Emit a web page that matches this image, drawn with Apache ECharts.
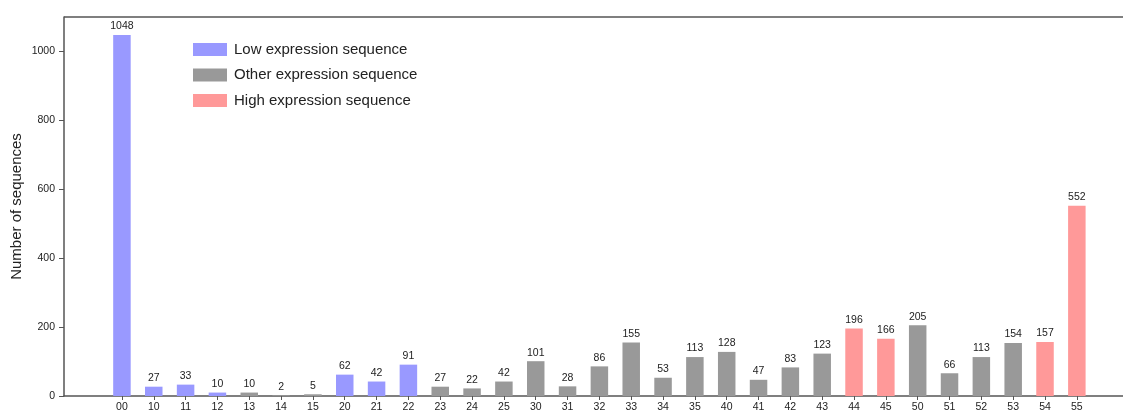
<!DOCTYPE html>
<html>
<head>
<meta charset="utf-8">
<script src="https://cdn.jsdelivr.net/npm/echarts@6/dist/echarts.min.js"></script>
<style>html,body{margin:0;padding:0;background:#fff}#c{width:1123px;height:412px}</style>
</head>
<body>
<div id="c"></div>
<script>
var categories = ['00','10','11','12','13','14','15','20','21','22','23','24','25','30','31','32','33','34','35','40','41','42','43','44','45','50','51','52','53','54','55'];
var values = [1048,27,33,10,10,2,5,62,42,91,27,22,42,101,28,86,155,53,113,128,47,83,123,196,166,205,66,113,154,157,552];
var groups = ['L','L','L','L','O','O','O','L','L','L','O','O','O','O','O','O','O','O','O','O','O','O','O','H','H','O','O','O','O','H','H'];
var seriesNames = {L:'Low expression sequence', O:'Other expression sequence', H:'High expression sequence'};
var seriesColors = {L:'#9999ff', O:'#999999', H:'#ff9999'};
var yTicks = [0,200,400,600,800,1000];

function dataFor(g){
  var out = [];
  for (var i = 0; i < categories.length; i++) if (groups[i] === g) out.push([i, values[i]]);
  return out;
}
var series = ['L','O','H'].map(function(g){
  return {
    name: seriesNames[g], type: 'bar', data: dataFor(g), barWidth: 17.5, barGap: '-100%',
    itemStyle: {color: seriesColors[g]},
    label: {show: true, position: 'top', distance: 3, fontSize: 10.5, color: '#222', fontFamily: 'Liberation Sans, Arial'}
  };
});
var idx = categories.map(function(_, i){ return i; });
var chart = echarts.init(document.getElementById('c'));
chart.setOption({
  animation: false,
  textStyle: {fontFamily: 'Liberation Sans, Arial'},
  grid: {left: 64, right: 0, top: 17, bottom: 16, containLabel: false, outerBoundsMode: 'none'},
  legend: {
    orient: 'vertical', left: 188, top: 37, itemWidth: 34, itemHeight: 13, itemGap: 10.5,
    icon: 'rect', textStyle: {fontSize: 15, color: '#222', padding: [0,0,0,2]},
    data: series.map(function(s){ return s.name; })
  },
  xAxis: {
    type: 'value', min: -1.82, max: 31.45,
    splitLine: {show: false},
    axisLine: {show: true, onZero: false, lineStyle: {color: '#555', width: 1.5}},
    axisTick: {show: true, customValues: idx, length: 4, inside: false, lineStyle: {color: '#555'}},
    axisLabel: {customValues: idx, fontSize: 10.5, color: '#222', margin: 6,
      formatter: function(v){ return categories[Math.round(v)]; }}
  },
  yAxis: {
    type: 'value', min: 0, max: 1100,
    name: 'Number of sequences', nameLocation: 'middle', nameGap: 40, nameRotate: 90,
    nameMoveOverlap: false,
    nameTextStyle: {fontSize: 15, color: '#222'},
    splitLine: {show: false},
    axisLine: {show: true, onZero: false, lineStyle: {color: '#555', width: 1.5}},
    axisTick: {show: true, customValues: yTicks, length: 5, lineStyle: {color: '#555'}},
    axisLabel: {customValues: yTicks, fontSize: 10.5, color: '#222', margin: 9,
      formatter: function(v){ return String(v); }}
  },
  series: series
});
var topY = chart.convertToPixel({yAxisIndex: 0}, 1100);
chart.setOption({graphic: [{type: 'line', shape: {x1: 64, y1: topY, x2: 1123, y2: topY}, style: {stroke: '#555', lineWidth: 1.5}, silent: true}]});
</script>
</body>
</html>
